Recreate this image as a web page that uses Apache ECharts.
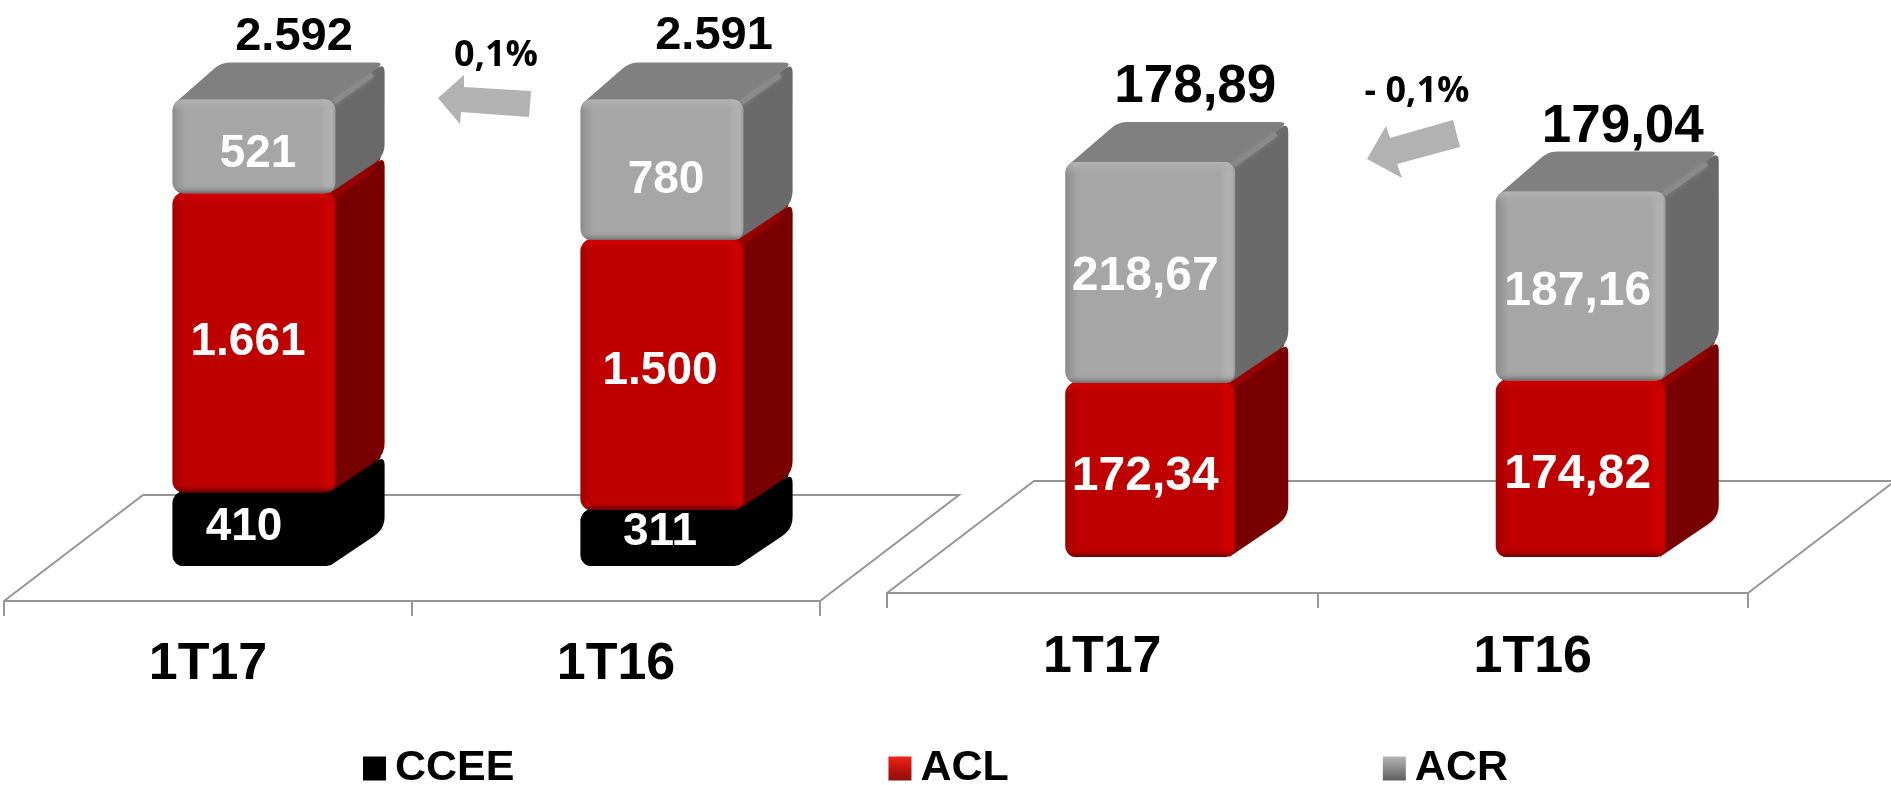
<!DOCTYPE html>
<html><head><meta charset="utf-8">
<style>html,body{margin:0;padding:0;background:#fff}#c{width:1891px;height:785px}</style>
<script src="https://cdn.jsdelivr.net/npm/echarts@6/dist/echarts.min.js"></script>
</head><body><div id="c"></div>
<script>
// ---- data ----
const categories = ['1T17', '1T16'];
const volCCEE = [410, 311];
const volACL = [1661, 1500];
const volACR = [521, 780];
const volTotal = [2592, 2591];
const priceACL = [172.34, 174.82];
const priceACR = [218.67, 187.16];
const priceTotal = [178.89, 179.04];
const changeLeft = '0,1%';
const changeRight = '- 0,1%';

// ---- formats and styles ----
const fmtVol = v => String(v).replace(/\B(?=(\d{3})+$)/g, '.');
const fmtPrice = v => v.toFixed(2).replace('.', ',');
const FONT = '"Liberation Sans", Arial, sans-serif';
const skin = {
  CCEE: {main:'#000',left:'#000',right:'#000',end:'#000',hi:'#000',lo:'#000',top:'#000',side:'#000',ridge:'#000'},
  ACL: {main:'#bf0000',left:'#a20000',right:'#cf0000',end:'#b00000',hi:'#d40000',lo:'#6a0000',top:'#a00000',side:'#780000',ridge:'#940000'},
  ACR: {main:'#a6a6a6',left:'#8c8c8c',right:'#b0b0b0',end:'#949494',hi:'#b4b4b4',lo:'#6e6e6e',top:'#808080',side:'#6a6a6a',ridge:'#8a8a8a'}
};
const legendFill = {
  CCEE:'#000',
  ACL:{type:'linear',x:0,y:0,x2:0,y2:1,colorStops:[{offset:0,color:'#f0241a'},{offset:.5,color:'#c01410'},{offset:1,color:'#8e0f0c'}]},
  ACR:{type:'linear',x:0,y:0,x2:0,y2:1,colorStops:[{offset:0,color:'#b4b4b4'},{offset:.5,color:'#8a8a8a'},{offset:1,color:'#5e5e5e'}]}
};
const views = [
  {barRatio:.4, offX:46, offY:35, dx:49, dy:37, floorDx:139, floorDy:106, labelSize:46},
  {barRatio:.395, offX:48, offY:36, dx:53, dy:40, floorDx:147, floorDy:112, labelSize:48}
];
const nudges = {
  '0CCEE':[[-10,-2],[-2,-6]], '0ACL':[[-6,0],[-2,-4]], '0ACR':[[4,8],[4,10]],
  '1ACL':[[-5,7],[-3,6]], '1ACR':[[-5,4],[-3,6]],
  '0total':[[40,-62],[52,-64]], '1total':[[45,-75],[42,-64]]
};

// ---- drawing helpers ----
function rounded(pts, radii) {
  const out = [], n = pts.length;
  for (let i = 0; i < n; i++) {
    const p = pts[i], a = pts[(i + n - 1) % n], b = pts[(i + 1) % n], r = radii[i];
    if (!r) { out.push(p); continue; }
    const la = Math.hypot(a[0]-p[0], a[1]-p[1]), lb = Math.hypot(b[0]-p[0], b[1]-p[1]);
    const ra = Math.min(r, la/2), rb = Math.min(r, lb/2);
    const s = [p[0]+(a[0]-p[0])*ra/la, p[1]+(a[1]-p[1])*ra/la];
    const e = [p[0]+(b[0]-p[0])*rb/lb, p[1]+(b[1]-p[1])*rb/lb];
    for (let t = 0; t <= 1.001; t += .2) {
      const u = 1 - t;
      out.push([u*u*s[0]+2*u*t*p[0]+t*t*e[0], u*u*s[1]+2*u*t*p[1]+t*t*e[1]]);
    }
  }
  return out;
}
function boxRenderer(viewIdx, name, fmt) {
  const v = views[viewIdx], c = skin[name], nudge = nudges[viewIdx + name];
  return function (params, api) {
    const i = api.value(0);
    const w = api.size([1, 0])[0] * v.barRatio;
    const cx = api.coord([i, 0])[0] + v.offX;
    const yB = api.coord([i, api.value(1)])[1] - v.offY;
    const yT = api.coord([i, api.value(2)])[1] - v.offY;
    const x0 = cx - w/2, x1 = cx + w/2, h = yB - yT, d = v.dx, e = v.dy;
    const r = 11;
    const grad = (x2, y2, stops) => ({type:'linear',x:0,y:0,x2,y2,colorStops:stops.map(s=>({offset:s[0],color:s[1]}))});
    const horiz = grad(1,0,[[0,c.left],[13/w,c.main],[1-16/w,c.main],[1-9/w,c.right],[1-3/w,c.right],[1,c.end]]);
    const tp = Math.min(.3, 12/h), bt = Math.max(.7, 1-9/h);
    const transp = name === 'ACL' ? 'rgba(191,0,0,0)' : name === 'ACR' ? 'rgba(166,166,166,0)' : 'rgba(0,0,0,0)';
    const vert = grad(0,1,[[0,c.hi],[tp,transp],[bt,transp],[1,c.lo]]);
    const children = [
      {type:'polygon',shape:{points:rounded([[x0+2,yT+4],[x0+d,yT-e],[x1+d,yT-e],[x1-4,yT+6]],[0,9,9,0])},style:{fill:c.top}},
      {type:'polygon',shape:{points:rounded([[x1-6,yT+5],[x1+d,yT-e],[x1+d,yB-e],[x1-6,yB]],[0,10,12,0])},style:{fill:c.side}},
      {type:'line',shape:{x1:x1-2,y1:yT+3,x2:x1+d-12,y2:yT-e+12},style:{stroke:c.ridge,lineWidth:5,shadowBlur:4,shadowColor:c.ridge}},
      {type:'rect',shape:{x:x0,y:yT,width:w,height:h,r},style:{fill:horiz}},
      {type:'rect',shape:{x:x0,y:yT,width:w,height:h,r},style:{fill:vert}},
      {type:'text',style:{text:fmt(api.value(3)),x:cx+nudge[i][0],y:(yT+yB)/2+nudge[i][1],fill:'#fff',
        font:'bold '+v.labelSize+'px '+FONT,align:'center',verticalAlign:'middle'}}
    ];
    return {type:'group',children};
  };
}
function floorRenderer(viewIdx) {
  const v = views[viewIdx];
  return function (params) {
    const g = params.coordSys, yF = g.y + g.height, xL = g.x, xR = g.x + g.width;
    return {type:'polyline',shape:{points:[[xL,yF],[xL+v.floorDx,yF-v.floorDy],[xR+v.floorDx,yF-v.floorDy],[xR,yF]]},
      style:{fill:null,stroke:'#969696',lineWidth:2}};
  };
}
function totalRenderer(viewIdx, fmt, size) {
  const v = views[viewIdx], nudge = nudges[viewIdx + 'total'];
  return function (params, api) {
    const i = api.value(0);
    const p = api.coord([i, api.value(1)]);
    return {type:'text',style:{text:fmt(api.value(2)),x:p[0]+v.offX+nudge[i][0],y:p[1]-v.offY+nudge[i][1],
      fill:'#000',font:'bold '+size+'px '+FONT,align:'center',verticalAlign:'middle'}};
  };
}
function stacked(viewIdx, name, values, bases, fmt) {
  return {type:'custom',name,coordinateSystem:'cartesian2d',xAxisIndex:viewIdx,yAxisIndex:viewIdx,
    itemStyle:{color:legendFill[name]},encode:{x:0,y:[1,2]},silent:true,clip:false,
    renderItem:boxRenderer(viewIdx,name,fmt),
    data:values.map((val,i)=>[i,bases[i],bases[i]+val,val])};
}
function floor(viewIdx) {
  return {type:'custom',coordinateSystem:'cartesian2d',xAxisIndex:viewIdx,yAxisIndex:viewIdx,silent:true,clip:false,
    renderItem:floorRenderer(viewIdx),encode:{x:0,y:1},data:[[0,0]]};
}
function totals(viewIdx, tops, vals, fmt, size) {
  return {type:'custom',coordinateSystem:'cartesian2d',xAxisIndex:viewIdx,yAxisIndex:viewIdx,silent:true,clip:false,
    renderItem:totalRenderer(viewIdx,fmt,size),encode:{x:0,y:1},data:vals.map((t,i)=>[i,tops[i],t])};
}
const xAxisFor = (gridIndex, margin) => ({type:'category',gridIndex,data:categories,
  axisLine:{lineStyle:{color:'#969696',width:2}},
  axisTick:{show:true,length:15,lineStyle:{color:'#969696',width:2}},
  axisLabel:{color:'#000',fontFamily:FONT,fontWeight:'bold',fontSize:52,margin,interval:0}});

const zeros = [0,0];
const afterCCEE = volCCEE;
const afterVolACL = volCCEE.map((v,i)=>v+volACL[i]);
const volTops = afterVolACL.map((v,i)=>v+volACR[i]);
const priceTops = priceACL.map((v,i)=>v+priceACR[i]);

const chart = echarts.init(document.getElementById('c'));
chart.setOption({
  animation:false,
  backgroundColor:'#fff',
  grid:[
    {left:4,width:816,top:61,height:540},
    {left:887,width:861,top:88,height:505}
  ],
  xAxis:[xAxisFor(0,38),xAxisFor(1,39)],
  yAxis:[
    {type:'value',gridIndex:0,min:0,max:3000,show:false},
    {type:'value',gridIndex:1,min:0,max:500,show:false}
  ],
  legend:{data:['CCEE','ACL','ACR'],left:358,top:742,icon:'rect',itemWidth:23,itemHeight:24,itemGap:374,selectedMode:false,
    textStyle:{color:'#000',fontFamily:FONT,fontWeight:'bold',fontSize:43,padding:[0,0,0,4]}},
  series:[
    floor(0),floor(1),
    stacked(0,'CCEE',volCCEE,zeros,fmtVol),
    stacked(0,'ACL',volACL,afterCCEE,fmtVol),
    stacked(0,'ACR',volACR,afterVolACL,fmtVol),
    stacked(1,'ACL',priceACL,zeros,fmtPrice),
    stacked(1,'ACR',priceACR,priceACL,fmtPrice),
    totals(0,volTops,volTotal,fmtVol,47),
    totals(1,priceTops,priceTotal,fmtPrice,53)
  ],
  graphic:[
    {type:'polygon',shape:{points:[[438,98],[464,75],[464,87],[531,91],[529,117],[461,112],[460,124]]},style:{fill:'#b2b2b2'}},
    {type:'polygon',shape:{points:[[1367,159],[1386,126],[1390,138],[1453,120],[1460,147],[1397,164],[1402,178]]},style:{fill:'#b2b2b2'}},
    {type:'text',style:{text:changeLeft,x:496,y:56,fill:'#000',font:'bold 36px "Open Sans", sans-serif',align:'center',verticalAlign:'middle'}},
    {type:'text',style:{text:changeRight,x:1417,y:92,fill:'#000',font:'bold 36px "Open Sans", sans-serif',align:'center',verticalAlign:'middle'}}
  ]
});
</script></body></html>
